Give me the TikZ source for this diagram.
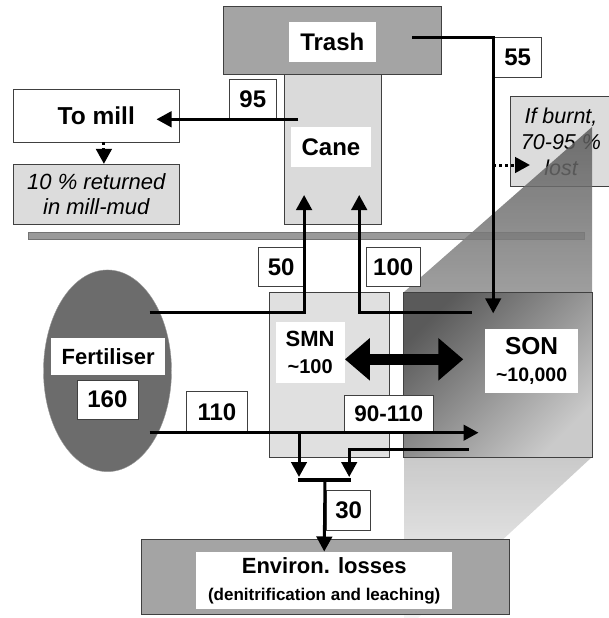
\documentclass[tikz,border=0pt]{standalone}
\usepackage{fontspec}
\setmainfont{Liberation Sans}
\usetikzlibrary{arrows.meta, positioning, shapes.geometric}
\definecolor{darkbox}{HTML}{A4A4A4}
\definecolor{lightbox}{HTML}{DADADA}
\definecolor{notebox}{HTML}{DCDCDC}
\definecolor{fertgray}{HTML}{6C6C6C}
\definecolor{barrow}{HTML}{9A9A9A}
\definecolor{sondark}{HTML}{5A5A5A}
\definecolor{sonlight}{HTML}{CACACA}
\tikzstyle{arrow}    = [line width=3pt, -{Triangle[width=15.5pt,length=15pt]}]
\tikzstyle{dotarrow} = [arrow, dash pattern=on 3pt off 3pt]
\tikzstyle{plain}    = [line width=3.5pt]
\tikzstyle{panel}    = [draw=black!75, line width=0.8pt, inner sep=0pt]
\tikzstyle{lbl}      = [fill=white, inner sep=0pt, align=center, font=\bfseries\fontsize{24}{27}\selectfont]
\tikzstyle{num}      = [draw=black!75, fill=white, line width=0.8pt, inner sep=0pt, font=\bfseries\fontsize{24}{26}\selectfont]
\tikzstyle{note}     = [panel, fill=notebox, align=center, font=\itshape\fontsize{22}{25}\selectfont]

\begin{document}
\begin{tikzpicture}[x=1pt, y=-1pt]
\useasboundingbox (0,0) rectangle (609,618);
\clip (0,0) rectangle (609,618);

% ground line and burning note
\fill[barrow, draw=black!55, line width=0.6pt] (28.3,232.3) rectangle (584.5,239.3);
\node[note, font=\itshape\fontsize{21.5}{26}\selectfont, minimum width=102, minimum height=90] (burnt) at (561,141.7) {If burnt,\\70-95 \%\\lost};

% shadow of the soil pool
\shade[top color=sondark, bottom color=white!95!black, opacity=0.85]
  (404,292) -- (592,127) -- (592,457) -- (418,618) -- (404,618) -- cycle;

% crop pools
\node[panel, fill=lightbox, minimum width=97.8, minimum height=150] (cane) at (332.8,149) {};
\node[panel, fill=darkbox, minimum width=218, minimum height=67.3] (trash) at (332.6,40.3) {};
\node[lbl, minimum width=86.5, minimum height=39.4] (trashlab) at (332.3,42) {Trash};
\node[lbl, minimum width=79.6, minimum height=39.4] (canelab) at (331,147) {Cane};

% mill
\node[panel, fill=white, font=\bfseries\fontsize{24.5}{27}\selectfont, minimum width=165.4, minimum height=52.7] (tomill) at (96.3,115.7) {To mill};
\node[note, minimum width=165.4, minimum height=60.4] (mud) at (96.3,194.5) {10 \% returned\\in mill-mud};

% soil pools
\node[panel, fill=lightbox!85!white, minimum width=120, minimum height=165] (smn) at (329.1,374.8) {};
\node[panel, top color=sondark, bottom color=sonlight, shading angle=45, minimum width=188.3, minimum height=165] (son) at (498,374.8) {};
\node[lbl, minimum width=68.8, minimum height=61] (smnlab) at (310.1,352.2)
  {\fontsize{22}{24}\selectfont SMN\\\fontsize{20}{22}\selectfont\textasciitilde100};
\node[lbl, minimum width=92.5, minimum height=63.7] (sonlab) at (531.6,360.8)
  {\fontsize{24.5}{30}\selectfont SON\\\fontsize{19.5}{22}\selectfont\textasciitilde10,000};

% fertiliser
\node[ellipse, draw=black!40, fill=fertgray, minimum width=128, minimum height=201.7, inner sep=0pt] (fert) at (107.5,370.8) {};
\node[lbl, font=\bfseries\fontsize{22}{24}\selectfont, minimum width=113.7, minimum height=36.7] (fertlab) at (108.2,356.7) {Fertiliser};

% losses
\node[panel, fill=darkbox, minimum width=368, minimum height=75] (env) at (325,576.8) {};
\node[lbl, minimum width=256.4, minimum height=57.6] (envlab) at (324.2,580.5)
  {\fontsize{22}{26}\selectfont Environ. losses\\\fontsize{17}{20}\selectfont (denitrification and leaching)};

% flow values
\node[num, minimum width=46.6, minimum height=39] (n95) at (252.8,98.8) {95};
\node[num, minimum width=46.6, minimum height=40] (n55) at (517.7,57.7) {55};
\node[num, minimum width=45.8, minimum height=39.4] (n50) at (281.2,267) {50};
\node[num, minimum width=54, minimum height=39.4] (n100) at (393.2,267) {100};
\node[num, minimum width=61, minimum height=39.3] (n160) at (107.4,399.7) {160};
\node[num, minimum width=61, minimum height=41] (n110) at (216.9,412.2) {110};
\node[num, font=\bfseries\fontsize{22.5}{24}\selectfont, minimum width=88.5, minimum height=37] (n90) at (388.8,414.2) {90-110};
\node[num, minimum width=44, minimum height=39.3] (n30) at (348.7,510.3) {30};

% bends and junctions
\coordinate (caneout)  at (298.3,119.3);
\coordinate (millin)   at (156.5,119.3);
\coordinate (trashout) at (412.2,38);
\coordinate (sonin)    at (493.2,313.3);
\coordinate (burnfrom) at (493.2,165);
\coordinate (burnin)   at (530,165);
\coordinate (fertup)   at (149.5,312.7);
\coordinate (caneinL)  at (304.1,195);
\coordinate (sonup)    at (471.8,312.7);
\coordinate (caneinR)  at (359.2,195);
\coordinate (smnx)     at (344.9,359.3);
\coordinate (sonx)     at (463.3,359.3);
\coordinate (fertout)  at (149.5,432.7);
\coordinate (sonend)   at (478.5,432.7);
\coordinate (sonout)   at (468.5,449);
\coordinate (splitL)   at (299,432.7);
\coordinate (joinL)    at (299,477);
\coordinate (joinR)    at (349.2,477);
\coordinate (barL)     at (297.5,480);
\coordinate (barR)     at (350.8,480);
\coordinate (joinM)    at (325,480);

% flows
\draw[arrow] (caneout) -- (millin);
\draw[dotarrow] ([xshift=7.6pt]tomill.south) -- ([xshift=7.6pt]mud.north);
\draw[arrow] (trashout) -| (sonin);
\draw[dotarrow] (burnfrom) -- (burnin);
\draw[arrow] (fertup) -| (caneinL);
\draw[arrow] (sonup) -| (caneinR);
\draw[line width=10.5pt, {Triangle[width=41pt,length=25pt]}-{Triangle[width=41pt,length=25pt]}] (smnx) -- (sonx);
\draw[arrow] (fertout) -- (sonend);
\draw[arrow] (splitL) -- (joinL);
\draw[arrow] (sonout) -| (joinR);
\draw[plain] (barL) -- (barR);
\draw[arrow] (joinM) -- (envlab.north);

\end{tikzpicture}
\end{document}
